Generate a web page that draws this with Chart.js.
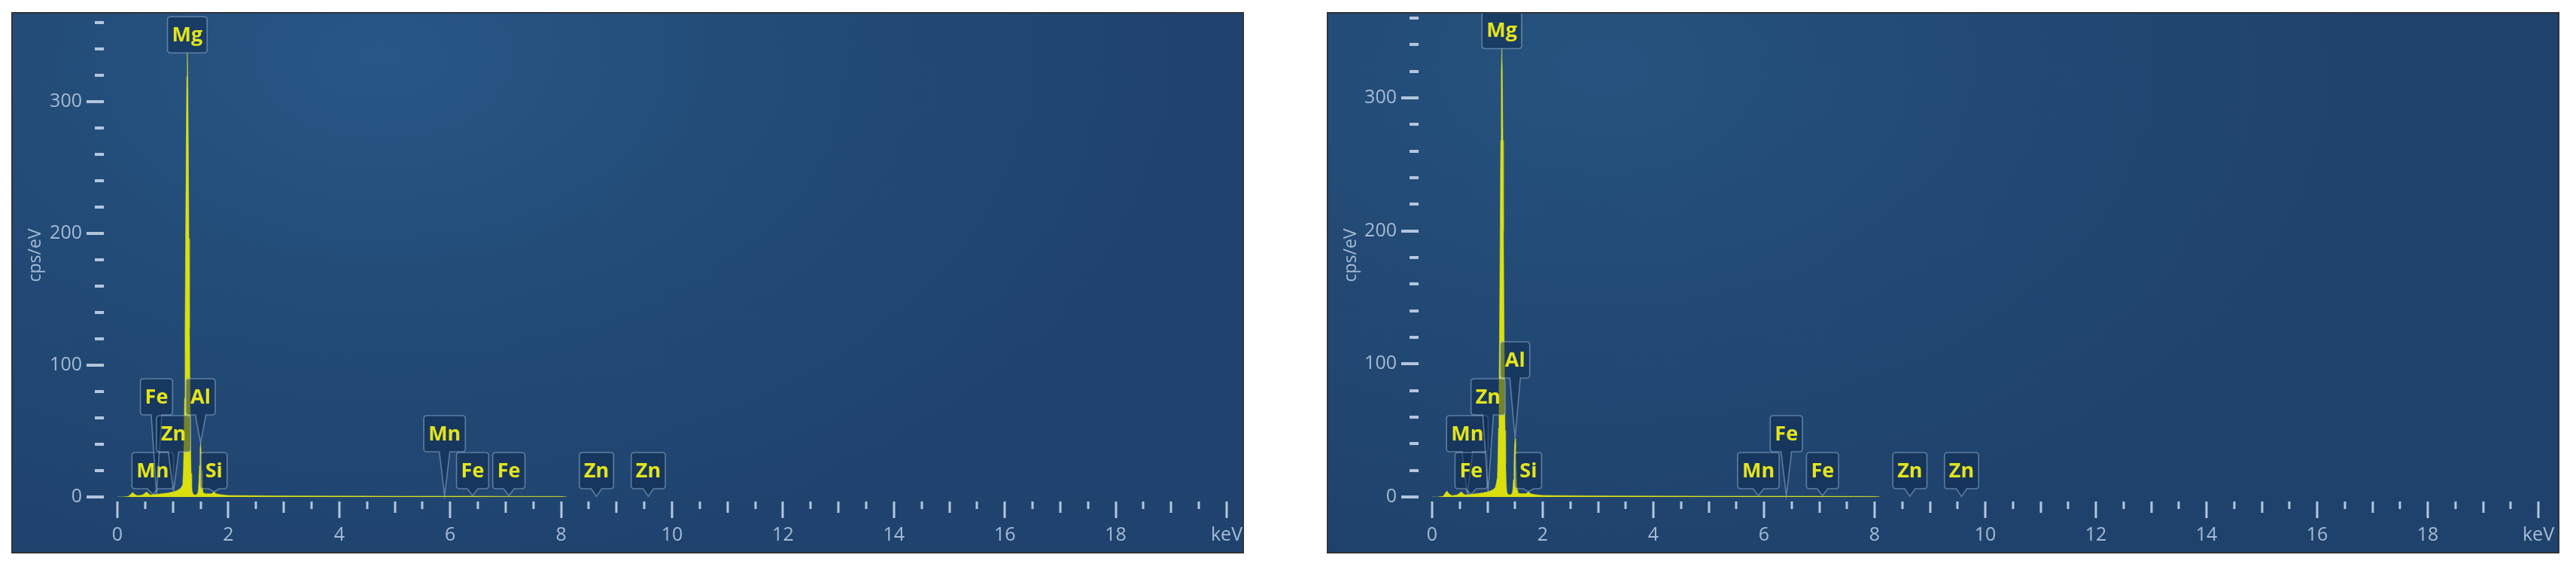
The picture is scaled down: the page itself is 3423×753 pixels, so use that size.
<!DOCTYPE html>
<html>
<head>
<meta charset="utf-8">
<script src="https://cdn.jsdelivr.net/npm/chart.js@4.4.1/dist/chart.umd.min.js"></script>
<style>
  html, body { margin: 0; padding: 0; background: #ffffff; width: 3423px; height: 753px; overflow: hidden; }
  .panel {
    position: absolute; top: 16px; width: 1634px; height: 715px;
    border: 2px solid #2f3338;
    background: radial-gradient(ellipse 65% 95% at 30% 8%, #285786 0%, #234c78 45%, #1f436e 100%);
  }
  #pA { left: 15px; }
  #pB { left: 1763px; background: radial-gradient(ellipse 65% 95% at 22% 10%, #26537f 0%, #224a75 45%, #1f426c 100%); }
  canvas { display: block; }
</style>
</head>
<body>
<div class="panel" id="pA"><canvas id="cA" width="1634" height="715"></canvas></div>
<div class="panel" id="pB"><canvas id="cB" width="1634" height="715"></canvas></div>
<script>
// ---------- data: left spectrum ----------
const energyA = [0.00,0.10,0.20,0.25,0.28,0.31,0.36,0.45,0.50,0.53,0.56,0.60,0.64,0.70,0.80,0.90,1.00,1.05,1.10,1.15,1.17,
  1.18,1.19,1.20,1.21,1.22,1.23,1.24,1.25,1.26,1.27,1.28,1.29,1.30,1.31,1.32,1.33,1.34,1.35,1.37,1.40,
  1.43,1.45,1.46,1.47,1.48,1.49,1.50,1.51,1.52,1.53,1.54,1.55,1.60,1.70,1.74,1.78,1.85,2.00,3.00,4.00,5.00,5.90,6.40,7.00,8.00,8.10];
const countsA = [0,0,0.5,2.5,3.5,2,1,1.5,3,3.8,2.5,1.5,1.8,2,2.5,3,3.8,4.5,5.5,7,9,
  12,20,40,75,128,196,265,319,337,319,265,196,128,74,39,18,8,4,2,1.5,
  2,3,6,12,24,36,41,34,20,9,5,3,2.5,2.5,4,2.5,1.8,1.2,0.8,0.7,0.6,0.6,0.6,0.5,0.4,0];

// ---------- data: right spectrum ----------
const energyB = [0.00,0.10,0.20,0.24,0.27,0.30,0.36,0.45,0.50,0.53,0.56,0.60,0.64,0.70,0.80,0.90,1.00,1.05,1.10,1.14,1.16,
  1.18,1.19,1.20,1.21,1.22,1.23,1.24,1.25,1.26,1.27,1.28,1.29,1.30,1.31,1.32,1.33,1.34,1.35,1.37,1.40,
  1.43,1.45,1.46,1.47,1.48,1.49,1.50,1.51,1.52,1.53,1.54,1.55,1.60,1.70,1.74,1.78,1.85,2.00,3.00,4.00,5.00,5.90,6.40,7.00,8.00,8.10];
const countsB = [0,0,0.5,3,4.5,2.5,1,1.5,3,4,2.5,1.5,1.8,2,2.5,3,3.8,4.5,5.5,7,10,
  15,30,52,85,135,200,268,320,337,320,268,200,135,85,50,25,10,4,2,1.5,
  2,3,6,13,26,39,44,37,22,10,5,3,2.5,2.5,4,2.5,1.8,1.2,0.8,0.7,0.6,0.6,0.6,0.5,0.4,0];

// ---------- peak labels ----------
const labelNames = ['Mn','Fe','Zn','Si','Al','Mg','Mn','Fe','Fe','Zn','Zn'];
const labelEnergy = [0.637,0.705,1.012,1.74,1.50,1.26,5.899,6.404,7.058,8.638,9.572];
const labelValueA = [2,2,4,4,41,337,1,1,1,0.5,0.5];
const labelValueB = [2,2,4,4,44,337,1,1,1,0.5,0.5];
// stacking level above baseline (-1 = sits on top of the peak)
const labelLevelA = [0,2,1,0,2,-1,1,0,0,0,0];
const labelLevelB = [1,0,2,0,3,-1,0,1,0,0,0];

// ---------- axis ticks ----------
const xTickLabels = {0:'0',2:'2',4:'4',6:'6',8:'8',10:'10',12:'12',14:'14',16:'16',18:'18',20:'keV'};
const yTickLabels = {0:'0',100:'100',200:'200',300:'300'};

const AXIS_COLOR = '#a7bbd3';
const TICK_COLOR = '#b4c6dc';
const YELLOW = '#f0f000';

const marksPlugin = {
  id: 'marks',
  afterDraw(chart) {
    const {ctx, scales: {x, y}, chartArea} = chart;
    const base = y.getPixelForValue(0);
    ctx.save();
    ctx.fillStyle = TICK_COLOR;
    x.ticks.forEach(t => {
      const v = t.value;
      const px = Math.round(x.getPixelForValue(v));
      const len = (v % 2 === 0) ? 22 : (v % 1 === 0 ? 15 : 10);
      ctx.fillRect(px - 1.5, base + 6, 3, len);
    });
    y.ticks.forEach(t => {
      const v = t.value;
      const py = Math.round(y.getPixelForValue(v));
      const major = v % 100 === 0;
      const x1 = chartArea.left - 18;
      const x0 = major ? chartArea.left - 41 : chartArea.left - 30;
      ctx.fillRect(x0, py - 2, x1 - x0, 4);
    });
    ctx.restore();
  },
  afterDatasetsDraw(chart) {
    const L = chart.options.plugins.marks;
    const {ctx, scales: {x, y}} = chart;
    const base = y.getPixelForValue(0);
    ctx.save();
    ctx.font = '700 27px "Open Sans", sans-serif';
    ctx.textAlign = 'center';
    ctx.textBaseline = 'middle';
    L.names.forEach((name, i) => {
      const tx = x.getPixelForValue(L.energies[i]);
      const ty = y.getPixelForValue(L.values[i]);
      const w = ctx.measureText(name).width + 12;
      const h = 48, r = 4, hw = 7;
      const lvl = L.levels[i];
      const bottom = lvl < 0 ? ty : base - 11 - 49 * lvl;
      const top = bottom - h, left = tx - w / 2, right = tx + w / 2;
      ctx.beginPath();
      ctx.moveTo(left + r, top);
      ctx.lineTo(right - r, top);
      ctx.quadraticCurveTo(right, top, right, top + r);
      ctx.lineTo(right, bottom - r);
      ctx.quadraticCurveTo(right, bottom, right - r, bottom);
      if (ty - bottom > 3) {
        ctx.lineTo(tx + hw, bottom);
        ctx.lineTo(tx, ty);
        ctx.lineTo(tx - hw, bottom);
      }
      ctx.lineTo(left + r, bottom);
      ctx.quadraticCurveTo(left, bottom, left, bottom - r);
      ctx.lineTo(left, top + r);
      ctx.quadraticCurveTo(left, top, left + r, top);
      ctx.closePath();
      ctx.fillStyle = 'rgba(14,40,76,0.5)';
      ctx.fill();
      ctx.strokeStyle = 'rgba(150,178,208,0.55)';
      ctx.lineWidth = 1.6;
      ctx.stroke();
      ctx.fillStyle = '#e4e41c';
      ctx.fillText(name, tx, top + h / 2 + 1);
    });
    ctx.restore();
  }
};

function makeChart(id, energy, counts, values, levels, yMax, yAxisWidth, padRight) {
  const pts = energy.map((e, i) => ({x: e, y: counts[i]}));
  return new Chart(document.getElementById(id), {
    type: 'line',
    data: { datasets: [{
      data: pts,
      fill: 'origin',
      backgroundColor: 'rgba(240,240,0,0.9)',
      borderColor: 'rgba(220,225,40,0.55)',
      borderWidth: 1,
      pointRadius: 0,
      tension: 0
    }]},
    options: {
      responsive: false,
      devicePixelRatio: 1,
      animation: false,
      layout: { padding: { left: 0, right: padRight, top: 0, bottom: 0 } },
      plugins: {
        legend: { display: false },
        tooltip: { enabled: false },
        marks: { names: labelNames, energies: labelEnergy, values: values, levels: levels }
      },
      scales: {
        x: {
          type: 'linear', min: 0, max: 20,
          grid: { display: false, drawTicks: false },
          border: { display: false },
          afterFit(s) { s.height = 73; s.paddingLeft = 0; s.paddingRight = 0; },
          ticks: {
            stepSize: 0.5, autoSkip: false, maxRotation: 0, padding: 36,
            color: AXIS_COLOR,
            font: { family: '"Open Sans", sans-serif', size: 25 },
            callback: v => (xTickLabels[v] !== undefined ? xTickLabels[v] : '')
          }
        },
        y: {
          type: 'linear', min: 0, max: yMax,
          grid: { display: false, drawTicks: false },
          border: { display: false },
          afterBuildTicks(s) { const t = []; for (let v = 0; v <= 360; v += 20) t.push({value: v}); s.ticks = t; },
          afterFit(s) { s.width = yAxisWidth; s.paddingTop = 0; s.paddingBottom = 0; },
          ticks: {
            padding: 47,
            color: AXIS_COLOR,
            font: { family: '"Open Sans", sans-serif', size: 25 },
            callback: v => (yTickLabels[v] !== undefined ? yTickLabels[v] : '')
          },
          title: {
            display: true, text: 'cps/eV', color: AXIS_COLOR,
            font: { family: '"Open Sans", sans-serif', size: 23 },
            padding: { top: 17, bottom: 0 }
          }
        }
      }
    },
    plugins: [marksPlugin]
  });
}

makeChart('cA', energyA, countsA, labelValueA, labelLevelA, 366.9, 139, 21);
makeChart('cB', energyB, countsB, labelValueB, labelLevelB, 363.3, 138, 26);
</script>
</body>
</html>
